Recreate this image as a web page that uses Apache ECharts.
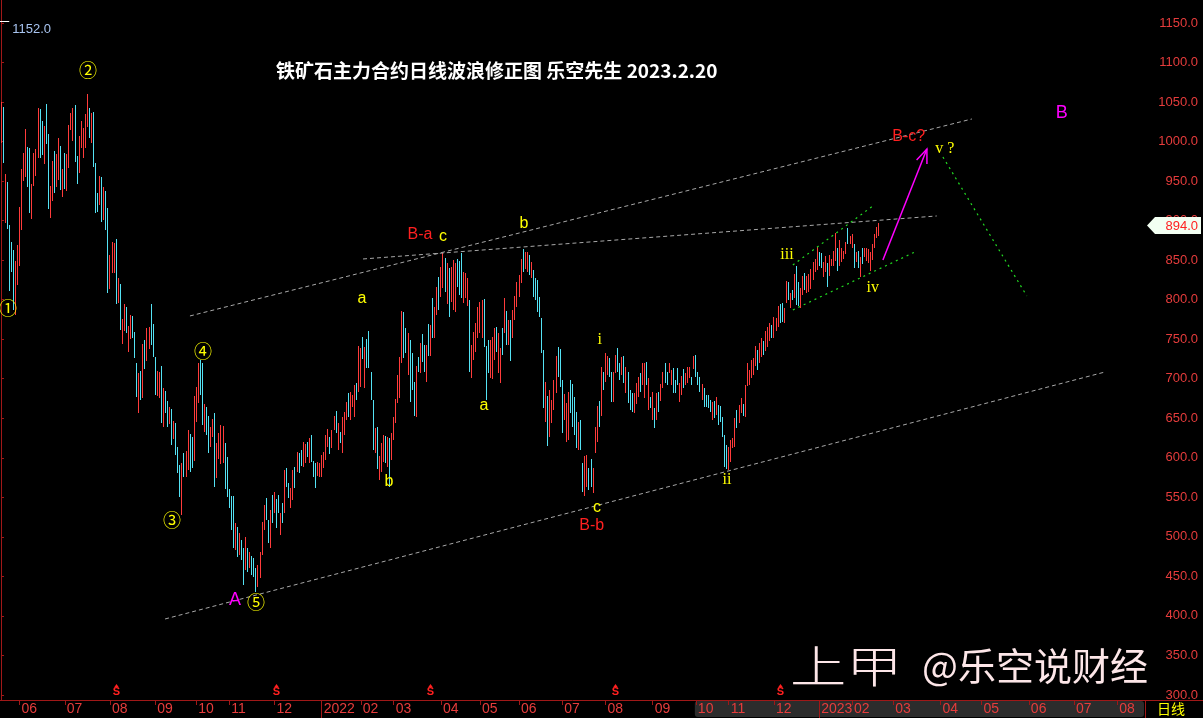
<!DOCTYPE html>
<html><head><meta charset="utf-8">
<script src="https://cdn.jsdelivr.net/npm/echarts@6/dist/echarts.min.js"></script>
<style>html,body{margin:0;padding:0;background:#000;}#c{width:1203px;height:718px;}</style>
</head><body><div id="c"></div>
<script>
// ---- daily bars: high, low, direction (r = up/red, c = down/cyan)
const barHigh = [
1050,1044,959,949,894,873,863,849,869,917,
965,986,1016,993,992,946,986,991,1042,1041,
1026,1020,1048,1010,944,975,988,984,1004,994,
965,986,984,1021,1036,1042,1046,982,1007,1026,
1017,1035,1060,1042,1036,1037,973,935,956,955,
943,937,916,856,873,872,877,827,820,776,
795,791,767,781,779,759,720,707,710,744,
749,764,765,795,769,727,710,709,716,688,
684,672,664,662,647,644,614,591,593,606,
609,635,630,626,678,690,720,724,720,668,
664,653,639,649,657,619,631,641,640,619,
601,561,552,552,517,512,505,496,486,500,
486,481,476,473,461,464,481,519,540,549,
521,534,553,557,548,553,530,543,585,587,
568,562,585,588,607,606,610,620,617,620,
625,629,596,593,595,593,603,607,629,636,
626,635,653,659,644,633,652,658,671,682,
683,679,692,695,741,739,753,740,750,761,
709,673,638,639,602,619,629,628,626,625,
631,652,674,705,728,786,784,764,758,749,
733,696,716,728,745,757,743,743,769,768,
802,791,816,829,841,859,853,846,840,841,
850,847,852,849,859,835,834,827,800,743,
759,770,791,797,800,801,741,749,749,753,
764,766,758,739,764,802,786,774,774,787,
805,823,831,851,864,860,860,856,848,838,
827,825,803,777,736,696,678,686,673,698,
729,740,738,698,681,669,683,698,693,677,
658,645,648,593,602,603,587,598,587,639,
665,672,715,708,732,729,726,708,708,730,
739,720,728,729,715,708,686,682,682,695,
702,707,720,720,721,701,677,683,663,682,
683,693,708,720,708,720,711,714,698,714,
695,703,712,707,715,715,702,729,730,708,
702,693,688,679,679,673,671,672,677,667,
665,652,629,616,614,623,625,650,660,667,
676,668,692,720,711,724,726,741,736,745,
752,748,760,765,770,768,778,777,792,795,
796,790,824,823,808,812,833,842,823,815,
830,834,830,832,839,848,852,867,860,859,
848,855,846,856,851,862,884,865,875,865,
862,873,891,880,883,870,860,861,854,866,
866,866,864,860,870,883,892,897];
const barLow = [
998,973,897,889,811,835,787,781,819,843,
888,950,955,943,910,902,944,956,979,979,
983,972,997,915,903,925,935,943,951,939,
930,940,937,967,1015,1001,974,946,960,992,
979,992,1018,1004,998,968,910,911,920,898,
901,888,808,814,834,834,795,796,762,744,
760,758,734,750,752,726,677,657,673,676,
712,722,738,743,727,679,678,676,644,639,
657,639,643,616,624,604,581,550,528,576,
576,585,582,587,596,645,669,679,641,633,
629,606,614,626,563,575,598,592,593,561,
550,537,509,486,483,475,477,471,439,458,
456,461,452,449,430,437,448,477,509,521,
492,486,518,530,511,530,502,518,530,563,
549,537,547,562,582,581,590,588,593,601,
593,595,576,562,577,576,576,587,597,614,
605,612,635,631,610,619,606,629,648,652,
648,664,652,673,683,690,725,688,714,714,
673,610,606,586,572,582,595,593,588,563,
597,622,644,669,676,720,726,733,705,671,
686,653,652,709,707,721,709,696,729,729,
752,752,781,787,803,815,810,795,778,797,
787,784,816,806,802,796,802,792,709,701,
724,734,752,758,752,740,673,707,701,700,
724,734,707,695,730,758,743,743,723,752,
774,791,803,821,835,839,835,831,827,803,
800,784,778,733,663,645,615,626,644,660,
682,702,690,631,648,620,622,657,639,629,
612,610,610,557,552,563,559,563,556,606,
620,639,653,686,696,705,702,671,671,707,
709,698,705,695,682,669,660,658,657,668,
677,683,692,676,692,660,663,648,638,648,
658,672,688,695,692,707,692,682,682,692,
671,679,688,692,695,701,692,712,702,692,
683,673,664,664,663,658,648,650,654,641,
645,626,588,586,585,595,612,614,638,644,
657,653,652,691,692,701,705,716,711,720,
728,730,735,740,748,752,752,760,765,770,
772,770,796,800,789,800,802,793,792,789,
806,812,808,810,814,825,835,838,842,840,
829,835,816,830,843,843,849,836,842,848,
852,858,871,870,866,840,848,840,829,845,
854,849,846,836,850,865,878,880];
const barDir = [
"rcrccccrrr","rrrccrrrrc","crccrrcrrc","rcrrrrccrr","rrrcrcccrc",
"rccrrrcrcr","rcrrcccrcr","crrcccrrcr","ccrcrcccrc","rrccrrrccr",
"ccrrcrrrrc","ccccrcrccr","crcccrrrrc","crcrccrcrc","crrcrccrrc",
"rcccrrrrrr","crrcrcrrrc","rrrcrrcrcc","ccrcrrrcrc","rrrrrrccrc",
"ccrcrccrcr","crrcrrcrcr","rrcccrrrcr","rrrrrcccrr","rcrrcrcrcr",
"rrrrcrrcrc","cccccrcrrr","rcccrrrccc","crccrrccrr","rcrcrrccrr",
"ccrcrcccrr","rcrrcrcrcr","crrccrrccc","rrcrrrcrcc","crccccrcrc",
"ccccrrrrcr","rcrrrrrrcr","rcrrrcrrrc","crrcrcrccr","rcrrrrrrcc",
"rrcrrrrcrr","rrcrrcrcrc","rrrrrrrr"].join("");

// ---- axes
const slotCount = 557;
const tickIdx  = [9,31,53,75,95,111,133,156,175,191,214,233,252,273,294,317,338,354,376,398,414,434,457,477,500,522,543];
const tickText = ['06','07','08','09','10','11','12','2022','02','03','04','05','06','07','08','09','10','11','12','2023','02','03','04','05','06','07','08'];
const yearTickIdx = [156, 398];
const priceTicks = [300,350,400,450,500,550,600,650,700,750,800,850,900,950,1000,1050,1100,1150];
const priceMin = 293.6, priceMax = 1179.1;
const lastPrice = 894.0;
const maxPrice = 1152.0;
const rollIdx = [56,134,209,299,379];

// ---- annotations (bar index, price)
const grayLines  = [[91.9,779.4,472.3,1028.6],[79.8,396.1,537,708.5],[176.1,851.5,455.2,905.9]];
const greenLines = [[385.2,843.9,424.1,918.5],[385.2,787,444.5,860.3],[458.2,980.5,499,804.7]];
const arrowLine  = [[429,850.2,450.4,990.6]];
const circlePos  = [[3.4,789.5],[42.3,1090.5],[83.2,521.3],[98.2,735.1],[124,417.6]];
const circleText = ['①','②','③','④','⑤'];
const letterPos  = [[175.6,801],[188.7,569.4],[215,879.3],[254.4,895.8],[234.9,665.5],[289.9,536.5]];
const letterText = ['a','b','c','b','a','c'];
const romanPos   = [[291.3,749],[353.1,572],[382.3,856.5],[424.1,814.8],[459.1,990.6]];
const romanText  = ['i','ii','iii','iv','v ?'];
const redPos     = [[203.8,881.8],[287.4,513.8],[441.6,1005.8]];
const redText    = ['B-a','B-b','B-c?'];
const bigPos     = [[113.8,420.2],[516,1036]];
const bigText    = ['A','B'];

const UP = '#ff3b3b', DOWN = '#54e2f4', AXIS = '#a01818', LBL = '#e63c3c';

const chart = echarts.init(document.getElementById('c'), null, {renderer:'canvas'});

function textSeries(pos, texts, font, color, extra) {
  return {
    type:'custom', silent:true, z:10,
    data: pos, encode:{x:0, y:1},
    renderItem:(params, api)=>{
      const p = api.coord([api.value(0), api.value(1)]);
      return {type:'text', x:p[0], y:p[1], style:Object.assign({text:texts[params.dataIndex], fill:color, font:font, align:'center', verticalAlign:'middle'}, extra||{})};
    }
  };
}
function lineSeries(lines, color, dash, width) {
  return {
    type:'custom', silent:true, z:5,
    data: lines, encode:{x:[0,2], y:[1,3]},
    renderItem:(params, api)=>{
      const a = api.coord([api.value(0), api.value(1)]);
      const b = api.coord([api.value(2), api.value(3)]);
      return {type:'line', shape:{x1:a[0],y1:a[1],x2:b[0],y2:b[1]}, style:{stroke:color, lineWidth:width, lineDash:dash}};
    }
  };
}

const option = {
  backgroundColor:'#000',
  animation:false,
  title:{text:'铁矿石主力合约日线波浪修正图 乐空先生 2023.2.20', left:271, top:56,
    textStyle:{color:'#ffffff', fontSize:19, fontWeight:'bold', fontFamily:'Noto Sans CJK SC'}},
  grid:{left:0, right:58, top:0, bottom:18, outerBoundsMode:'none'},
  xAxis:{type:'value', min:-0.5, max:slotCount-0.5,
    axisLine:{show:true, onZero:false, lineStyle:{color:AXIS}},
    axisTick:{show:true, customValues:tickIdx, length:5, lineStyle:{color:AXIS}},
    axisLabel:{customValues:tickIdx, formatter:(v)=>tickText[tickIdx.indexOf(Math.round(v))], align:'left',
      color:LBL, fontSize:14, fontFamily:'Liberation Sans', margin:2, padding:[0,0,0,2]},
    splitLine:{show:false}},
  yAxis:{type:'value', position:'right', min:priceMin, max:priceMax,
    axisLine:{show:true, lineStyle:{color:AXIS}},
    axisTick:{show:true, customValues:priceTicks, length:3, lineStyle:{color:AXIS}},
    axisLabel:{customValues:priceTicks, formatter:(v)=>v.toFixed(1), color:LBL, fontSize:13,
      fontFamily:'Liberation Sans', align:'right', margin:53},
    splitLine:{show:false}},
  series:[
    {type:'custom', silent:true, z:3,
      data: barHigh.map((h,i)=>[i,h,barLow[i], barDir[i]==='r'?1:0]),
      encode:{x:0, y:[1,2]},
      renderItem:(params, api)=>{
        const a = api.coord([api.value(0), api.value(1)]);
        const yl = api.coord([api.value(0), api.value(2)])[1];
        const x = Math.floor(a[0]);
        const y0 = Math.round(a[1]);
        return {type:'rect', shape:{x:x, y:y0, width:1, height:Math.max(1, Math.round(yl)-y0)},
          style:{fill: api.value(3) ? UP : DOWN}};
      }},
    lineSeries(grayLines, '#a8a8a8', [4,3], 1),
    lineSeries(greenLines, '#22dd22', [2,4], 1.2),
    {type:'custom', silent:true, z:6, data:arrowLine, encode:{x:[0,2], y:[1,3]},
      renderItem:(params, api)=>{
        const a = api.coord([api.value(0), api.value(1)]);
        const b = api.coord([api.value(2), api.value(3)]);
        const ang = Math.atan2(b[1]-a[1], b[0]-a[0]);
        const L = 15, w = 0.38;
        const h1 = [b[0]-L*Math.cos(ang-w), b[1]-L*Math.sin(ang-w)];
        const h2 = [b[0]-L*Math.cos(ang+w), b[1]-L*Math.sin(ang+w)];
        return {type:'group', children:[
          {type:'line', shape:{x1:a[0],y1:a[1],x2:b[0],y2:b[1]}, style:{stroke:'#ff00ff', lineWidth:1.5}},
          {type:'polyline', shape:{points:[h1,b,h2]}, style:{stroke:'#ff00ff', lineWidth:1.5, fill:null}}
        ]};
      }},
    // max marker
    {type:'custom', silent:true, z:6, data:[[0, maxPrice]], encode:{x:0, y:1},
      renderItem:(params, api)=>{
        const a = api.coord([-0.5, api.value(1)]);
        const b = api.coord([4, api.value(1)]);
        return {type:'group', children:[
          {type:'line', shape:{x1:a[0],y1:Math.round(a[1])+0.5,x2:b[0],y2:Math.round(a[1])+0.5}, style:{stroke:'#ffffff', lineWidth:1}},
          {type:'text', x:b[0]+3, y:a[1]+8, style:{text:maxPrice.toFixed(1), fill:'#a8c4f0', font:'13px "Liberation Sans"', align:'left', verticalAlign:'middle'}}
        ]};
      }},
    // roll markers
    {type:'custom', silent:true, z:6, data:rollIdx.map(i=>[i, priceMin]), encode:{x:0, y:1},
      renderItem:(params, api)=>{
        const x = Math.floor(api.coord([api.value(0), api.value(1)])[0]) + 0.5;
        const bottom = params.coordSys.y + params.coordSys.height;
        return {type:'group', children:[
          {type:'polygon', shape:{points:[[x-2.5,bottom-12.5],[x+2.5,bottom-12.5],[x,bottom-16]]}, style:{fill:'#ff2020'}},
          {type:'text', x:x, y:bottom-3, style:{text:'S', fill:'#ff2020', font:'bold 11px "Liberation Sans"', align:'center', verticalAlign:'bottom'}}
        ]};
      }},
    textSeries(circlePos, circleText, '18px "Noto Sans CJK SC"', '#ffff00'),
    textSeries(letterPos, letterText, '16px "Liberation Sans"', '#ffff00'),
    textSeries(romanPos, romanText, '16px "Liberation Serif"', '#ffff00'),
    textSeries(redPos, redText, '16px "Liberation Sans"', '#ff2020'),
    textSeries(bigPos, bigText, '18px "Liberation Sans"', '#ff00ff', {shadowColor:'#2020ff', shadowOffsetX:-1, shadowBlur:0})
  ]
};
chart.setOption(option);

// ---- decorations depending on axis positions
const yLast = chart.convertToPixel({yAxisIndex:0}, lastPrice);
const xScroll = chart.convertToPixel({xAxisIndex:0}, tickIdx[16]);
const yearX = yearTickIdx.map(i => Math.floor(chart.convertToPixel({xAxisIndex:0}, i)) + 0.5);
const graphics = [
  {type:'rect', z:-1, shape:{x:xScroll-1, y:701, width:1144-xScroll+1, height:16, r:3}, style:{fill:'#2c2c2c'}},
  {type:'line', shape:{x1:1145, y1:700.5, x2:1203, y2:700.5}, style:{stroke:AXIS, lineWidth:1}},
  {type:'line', shape:{x1:1145.5, y1:700, x2:1145.5, y2:718}, style:{stroke:AXIS, lineWidth:1}},
  {type:'text', x:1157, y:709, style:{text:'日线', fill:'#ffff00', font:'14px "Noto Sans CJK SC"', verticalAlign:'middle'}},
  {type:'polygon', z:10, shape:{points:[[1147,yLast],[1155,yLast-8.5],[1201,yLast-8.5],[1201,yLast+8.5],[1155,yLast+8.5]]}, style:{fill:'#f2fff2'}},
  {type:'text', z:11, x:1198, y:yLast+1, style:{text:lastPrice.toFixed(1), fill:'#ff2020', font:'13px "Liberation Sans"', align:'right', verticalAlign:'middle'}},
  {type:'text', z:9, x:790, y:666, scaleX:1.28, style:{text:'上甲', fill:'#fde6e8', font:'300 44px "Noto Sans CJK SC"', verticalAlign:'middle'}},
  {type:'text', z:9, x:922, y:666, style:{text:'@乐空说财经', fill:'#fde6e8', font:'38px "Noto Sans CJK SC"', verticalAlign:'middle'}}
];
yearX.forEach(x => graphics.push({type:'line', shape:{x1:x, y1:700, x2:x, y2:718}, style:{stroke:AXIS, lineWidth:1}}));
chart.setOption({graphic:graphics});
</script>
</body></html>
